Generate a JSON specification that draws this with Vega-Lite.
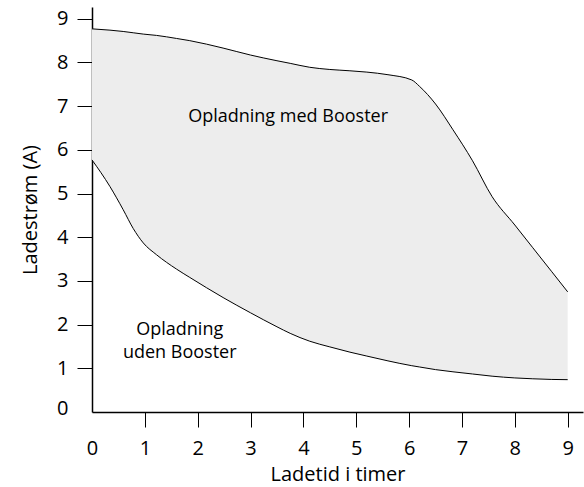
{
  "$schema": "https://vega.github.io/schema/vega-lite/v6.json",
  "autosize": {"type": "none"},
  "width": 491,
  "height": 405,
  "padding": {"left": 92, "top": 7, "right": 1, "bottom": 75},
  "background": "white",
  "config": {
    "view": {"stroke": null},
    "font": "Open Sans",
    "axis": {
      "grid": false,
      "domainColor": "black",
      "domainWidth": 1.5,
      "tickColor": "black",
      "tickWidth": 1,
      "tickSize": 15,
      "labelFont": "Open Sans",
      "labelFontSize": 20,
      "labelColor": "black",
      "labelFlush": false,
      "titleFont": "Open Sans",
      "titleFontSize": 20,
      "titleFontWeight": "normal",
      "titleColor": "black"
    }
  },
  "datasets": {
    "curves": [
      {"t": 0, "hi": 8.77, "lo": 5.77},
      {"t": 0.34, "hi": 8.74, "lo": 5.16},
      {"t": 0.59, "hi": 8.71, "lo": 4.63},
      {"t": 0.78, "hi": 8.68, "lo": 4.2},
      {"t": 0.97, "hi": 8.65, "lo": 3.87},
      {"t": 1.22, "hi": 8.62, "lo": 3.6},
      {"t": 1.6, "hi": 8.55, "lo": 3.27},
      {"t": 1.85, "hi": 8.5, "lo": 3.08},
      {"t": 2.48, "hi": 8.33, "lo": 2.62},
      {"t": 3.0, "hi": 8.17, "lo": 2.27},
      {"t": 3.5, "hi": 8.04, "lo": 1.95},
      {"t": 3.75, "hi": 7.98, "lo": 1.8},
      {"t": 4.12, "hi": 7.89, "lo": 1.62},
      {"t": 4.5, "hi": 7.84, "lo": 1.49},
      {"t": 4.88, "hi": 7.81, "lo": 1.37},
      {"t": 5.2, "hi": 7.78, "lo": 1.28},
      {"t": 5.6, "hi": 7.72, "lo": 1.17},
      {"t": 6.05, "hi": 7.6, "lo": 1.06},
      {"t": 6.2, "hi": 7.45, "lo": 1.03},
      {"t": 6.5, "hi": 7.05, "lo": 0.97},
      {"t": 6.83, "hi": 6.46, "lo": 0.92},
      {"t": 7.2, "hi": 5.75, "lo": 0.87},
      {"t": 7.57, "hi": 4.93, "lo": 0.82},
      {"t": 8, "hi": 4.28, "lo": 0.78},
      {"t": 8.34, "hi": 3.76, "lo": 0.76},
      {"t": 8.7, "hi": 3.21, "lo": 0.745},
      {"t": 9, "hi": 2.75, "lo": 0.74}
    ],
    "labels": [
      {"t": 3.71, "y": 6.75, "txt": "Opladning med Booster"},
      {"t": 1.66, "y": 1.88, "txt": "Opladning"},
      {"t": 1.66, "y": 1.36, "txt": "uden Booster"}
    ]
  },
  "layer": [
    {
      "data": {"name": "curves"},
      "mark": {"type": "area", "color": "#ededed", "interpolate": "monotone"},
      "encoding": {
        "x": {
          "field": "t", "type": "quantitative",
          "scale": {"domain": [0, 9.29], "nice": false},
          "axis": {
            "values": [0, 1, 2, 3, 4, 5, 6, 7, 8, 9],
            "title": "Ladetid i timer",
            "titlePadding": 6,
            "labelPadding": 11,
            "tickColor": {"condition": {"test": "datum.value == 0", "value": "transparent"}, "value": "black"}
          }
        },
        "y": {
          "field": "hi", "type": "quantitative",
          "scale": {"domain": [0, 9.27], "nice": false},
          "axis": {
            "values": [0, 1, 2, 3, 4, 5, 6, 7, 8, 9],
            "title": "Ladestrøm (A)",
            "titlePadding": 16,
            "labelPadding": 9,
            "labelOffset": {"condition": {"test": "datum.value == 0", "value": -4}, "value": 0},
            "tickColor": {"condition": {"test": "datum.value == 0", "value": "transparent"}, "value": "black"}
          }
        },
        "y2": {"field": "lo"}
      }
    },
    {
      "data": {"name": "curves"},
      "mark": {"type": "line", "color": "black", "strokeWidth": 1, "interpolate": "monotone"},
      "encoding": {
        "x": {"field": "t", "type": "quantitative"},
        "y": {"field": "hi", "type": "quantitative"}
      }
    },
    {
      "data": {"name": "curves"},
      "mark": {"type": "line", "color": "black", "strokeWidth": 1, "interpolate": "monotone"},
      "encoding": {
        "x": {"field": "t", "type": "quantitative"},
        "y": {"field": "lo", "type": "quantitative"}
      }
    },
    {
      "data": {"name": "labels"},
      "mark": {"type": "text", "fontSize": 18, "color": "black", "font": "Open Sans"},
      "encoding": {
        "x": {"field": "t", "type": "quantitative"},
        "y": {"field": "y", "type": "quantitative"},
        "text": {"field": "txt"}
      }
    }
  ]
}
